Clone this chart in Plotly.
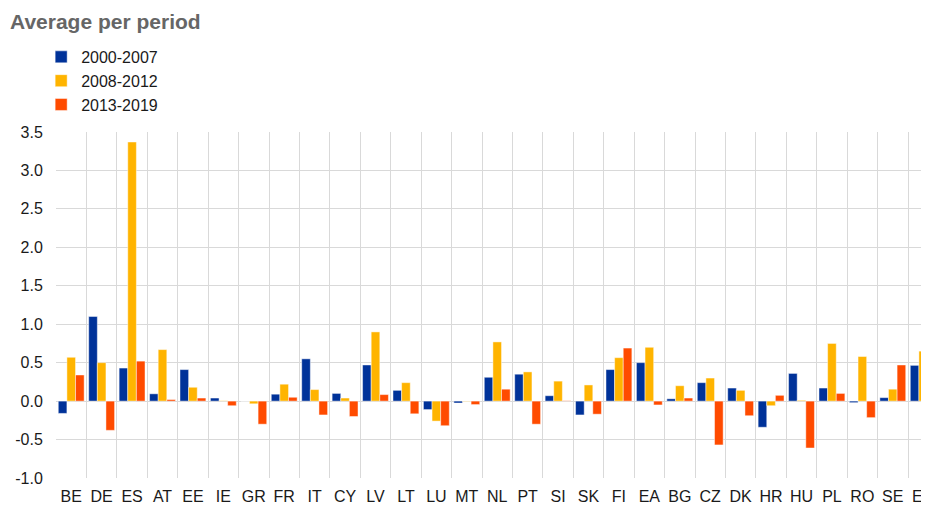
import plotly.graph_objects as go

countries = ["BE", "DE", "ES", "AT", "EE", "IE", "GR", "FR", "IT", "CY", "LV", "LT",
             "LU", "MT", "NL", "PT", "SI", "SK", "FI", "EA", "BG", "CZ", "DK", "HR",
             "HU", "PL", "RO", "SE", "EU"]
p2000_2007 = [-0.16, 1.10, 0.43, 0.095, 0.41, 0.04, 0.0, 0.09, 0.55, 0.10, 0.47, 0.14,
              -0.11, -0.025, 0.31, 0.35, 0.07, -0.18, 0.41, 0.50, 0.03, 0.24, 0.17, -0.34,
              0.36, 0.17, -0.02, 0.045, 0.465]
p2008_2012 = [0.57, 0.50, 3.37, 0.67, 0.18, 0.005, -0.035, 0.22, 0.15, 0.04, 0.90, 0.24,
              -0.26, -0.005, 0.77, 0.38, 0.26, 0.21, 0.565, 0.70, 0.20, 0.30, 0.14, -0.06,
              0.01, 0.75, 0.58, 0.155, 0.65]
p2013_2019 = [0.34, -0.38, 0.52, 0.02, 0.04, -0.06, -0.30, 0.05, -0.18, -0.20, 0.085, -0.165,
              -0.32, -0.045, 0.155, -0.30, 0.005, -0.17, 0.69, -0.05, 0.04, -0.57, -0.19, 0.075,
              -0.61, 0.10, -0.215, 0.47, -0.03]
y_ticks = [-1.0, -0.5, 0.0, 0.5, 1.0, 1.5, 2.0, 2.5, 3.0, 3.5]
y_tick_labels = ["-1.0", "-0.5", "0.0", "0.5", "1.0", "1.5", "2.0", "2.5", "3.0", "3.5"]

series = [
    ("2000-2007", p2000_2007, "#003299"),
    ("2008-2012", p2008_2012, "#FFB400"),
    ("2013-2019", p2013_2019, "#FF4B00"),
]

FONT = "Liberation Sans, Arial, sans-serif"
TEXT = "#1a1a1a"

# page body has an 8px margin, so the figure is sized to the rest of the window
W, H = 921, 498

fig = go.Figure()
for name, values, color in series:
    fig.add_trace(go.Bar(
        x=countries, y=values, name=name,
        marker=dict(color=color, line=dict(color="rgba(255,255,255,0.45)", width=1)),
    ))

fig.update_layout(
    width=W, height=H,
    template="plotly_white",
    plot_bgcolor="white", paper_bgcolor="white",
    font=dict(family=FONT, size=16, color=TEXT),
    margin=dict(l=48, r=0, t=124, b=28, autoexpand=False),
    barmode="group", bargap=0.15, bargroupgap=0,
    title=dict(text="<b>Average per period</b>", x=2 / W, xanchor="left",
               y=1 - 14 / H, yanchor="middle", xref="container", yref="container",
               font=dict(family=FONT, size=21, color="#666666")),
    legend=dict(orientation="v", x=-0.017, xanchor="left", y=1.266, yanchor="top",
                font=dict(family=FONT, size=16, color=TEXT),
                itemwidth=30, tracegroupgap=0, bgcolor="rgba(0,0,0,0)"),
    showlegend=True,
)
fig.update_xaxes(
    range=[-0.5, 28.19], tickson="boundaries", showgrid=True, tickangle=0,
    gridcolor="#d9d9d9", gridwidth=1, ticks="", ticklabelstandoff=7,
    showline=False, zeroline=False,
    tickfont=dict(size=16, color=TEXT),
)
fig.update_yaxes(
    range=[-1.0, 3.5], tickvals=y_ticks, ticktext=y_tick_labels, showgrid=True,
    gridcolor="#d9d9d9", gridwidth=1, zeroline=True, zerolinecolor="#d9d9d9",
    zerolinewidth=1, showline=False, ticks="outside", ticklen=9, tickcolor="white",
    tickfont=dict(size=16, color=TEXT),
)

fig.write_html("out.html")
